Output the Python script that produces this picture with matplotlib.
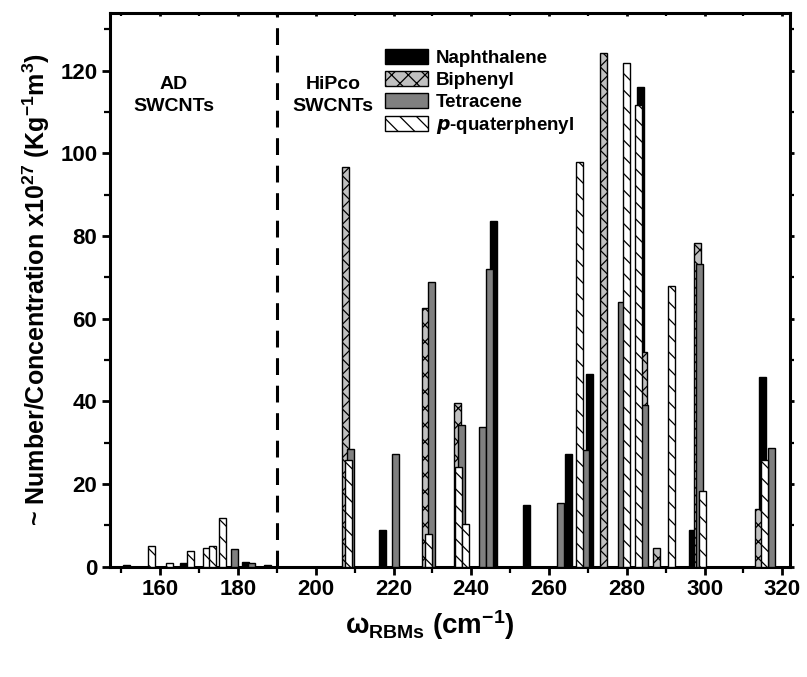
import matplotlib
matplotlib.use('Agg')
import matplotlib.pyplot as plt
from matplotlib.patches import Patch
from matplotlib.ticker import MultipleLocator

plt.rcParams['font.family'] = ['Liberation Sans', 'DejaVu Sans']
plt.rcParams['font.weight'] = 'bold'
plt.rcParams['mathtext.default'] = 'regular'
plt.rcParams['hatch.linewidth'] = 0.9

# 拉曼 RBM 位置 (cm-1) 及对应数值
naph_x = [151.4, 166.0, 182.0, 187.5, 217.1, 245.6, 254.2, 264.9, 270.3, 283.5, 296.8, 314.9]
naph_y = [0.3, 1.0, 1.1, 0.5, 8.9, 83.6, 14.8, 27.2, 46.5, 116.0, 8.8, 45.8]

biph_x = [207.6, 228.2, 236.4, 273.9, 284.3, 287.7, 298.3, 313.9]
biph_y = [96.8, 62.5, 39.5, 124.4, 52.0, 4.5, 78.4, 14.0]

tetra_x = [179.0, 183.5, 208.9, 220.6, 229.8, 237.4, 242.9, 244.7, 263.0, 269.5, 278.7, 284.5, 298.7, 317.1]
tetra_y = [4.3, 0.8, 28.5, 27.2, 68.8, 34.2, 33.8, 72.0, 15.5, 28.2, 64.0, 39.0, 73.2, 28.6]

quat_x = [157.7, 162.3, 167.7, 171.9, 173.5, 175.9, 208.4, 228.9, 236.6, 238.5, 267.9, 279.9, 283.0, 291.6, 299.6, 315.4]
quat_y = [5.0, 1.0, 3.8, 4.5, 5.0, 11.8, 25.8, 7.8, 24.2, 10.2, 98.0, 121.8, 111.8, 67.8, 18.2, 25.8]

series = [
    ('Naphthalene', naph_x, naph_y, 'black', ''),
    ('Biphenyl', biph_x, biph_y, '#c0c0c0', 'xx'),
    ('Tetracene', tetra_x, tetra_y, '#808080', ''),
    ('p-quaterphenyl', quat_x, quat_y, 'white', '\\\\'),
]

fig = plt.figure(figsize=(8.07, 6.77), dpi=100)
ax = fig.add_axes([0.136, 0.163, 0.843, 0.818])

w = 1.8
for z, (name, xs, ys, fc, hatch) in enumerate(series):
    ax.bar(xs, ys, width=w, color=fc, edgecolor='black', linewidth=1.0,
           hatch=hatch, zorder=2 + z)

ax.axvline(190, color='black', lw=2.2, linestyle=(0, (5.5, 3.5)), zorder=1)

ax.set_xlim(147, 322)
ax.set_ylim(0, 134)
ax.xaxis.set_major_locator(MultipleLocator(20))
ax.xaxis.set_minor_locator(MultipleLocator(10))
ax.yaxis.set_major_locator(MultipleLocator(20))
ax.yaxis.set_minor_locator(MultipleLocator(10))
ax.set_xticks(range(160, 321, 20))

for s in ax.spines.values():
    s.set_linewidth(2.2)
ax.tick_params(axis='both', which='major', direction='out', length=6, width=2,
               labelsize=16, pad=3)
ax.tick_params(axis='both', which='minor', direction='out', length=4, width=1.6)
ax.tick_params(top=True, right=True, which='both')
for t in ax.xaxis.get_major_ticks() + ax.xaxis.get_minor_ticks():
    t.tick2line.set_marker(3)
    t.tick2line.set_markersize(2)
for t in ax.yaxis.get_major_ticks() + ax.yaxis.get_minor_ticks():
    t.tick2line.set_marker(1)
    t.tick2line.set_markersize(3)

ax.set_xlabel(r'$\omega_{RBMs}$ (cm$^{-1}$)', fontsize=20, fontweight='bold', labelpad=6)
ax.xaxis.set_label_coords(0.47, -0.075)
ax.set_ylabel(r'~ Number/Concentration x10$^{27}$ (Kg$^{-1}$m$^{3}$)', fontsize=18,
              fontweight='bold', labelpad=6)

ax.text(163.5, 118.8, 'AD\nSWCNTs', ha='center', va='top', fontsize=14,
        fontweight='bold', linespacing=1.4)
ax.text(204.5, 118.8, 'HiPco\nSWCNTs', ha='center', va='top', fontsize=14,
        fontweight='bold', linespacing=1.4)

handles = [Patch(facecolor=fc, edgecolor='black', hatch=h, linewidth=1.0)
           for _, _, _, fc, h in series]
labels = ['Naphthalene', 'Biphenyl', 'Tetracene', r'$\it{p}$-quaterphenyl']
ax.legend(handles, labels, loc='upper left', bbox_to_anchor=(0.405, 0.935),
          frameon=False, fontsize=13.5, handlelength=2.3, handleheight=0.9,
          handletextpad=0.4, labelspacing=0.2, borderpad=0, borderaxespad=0)

fig.savefig('out.png', dpi=100)
